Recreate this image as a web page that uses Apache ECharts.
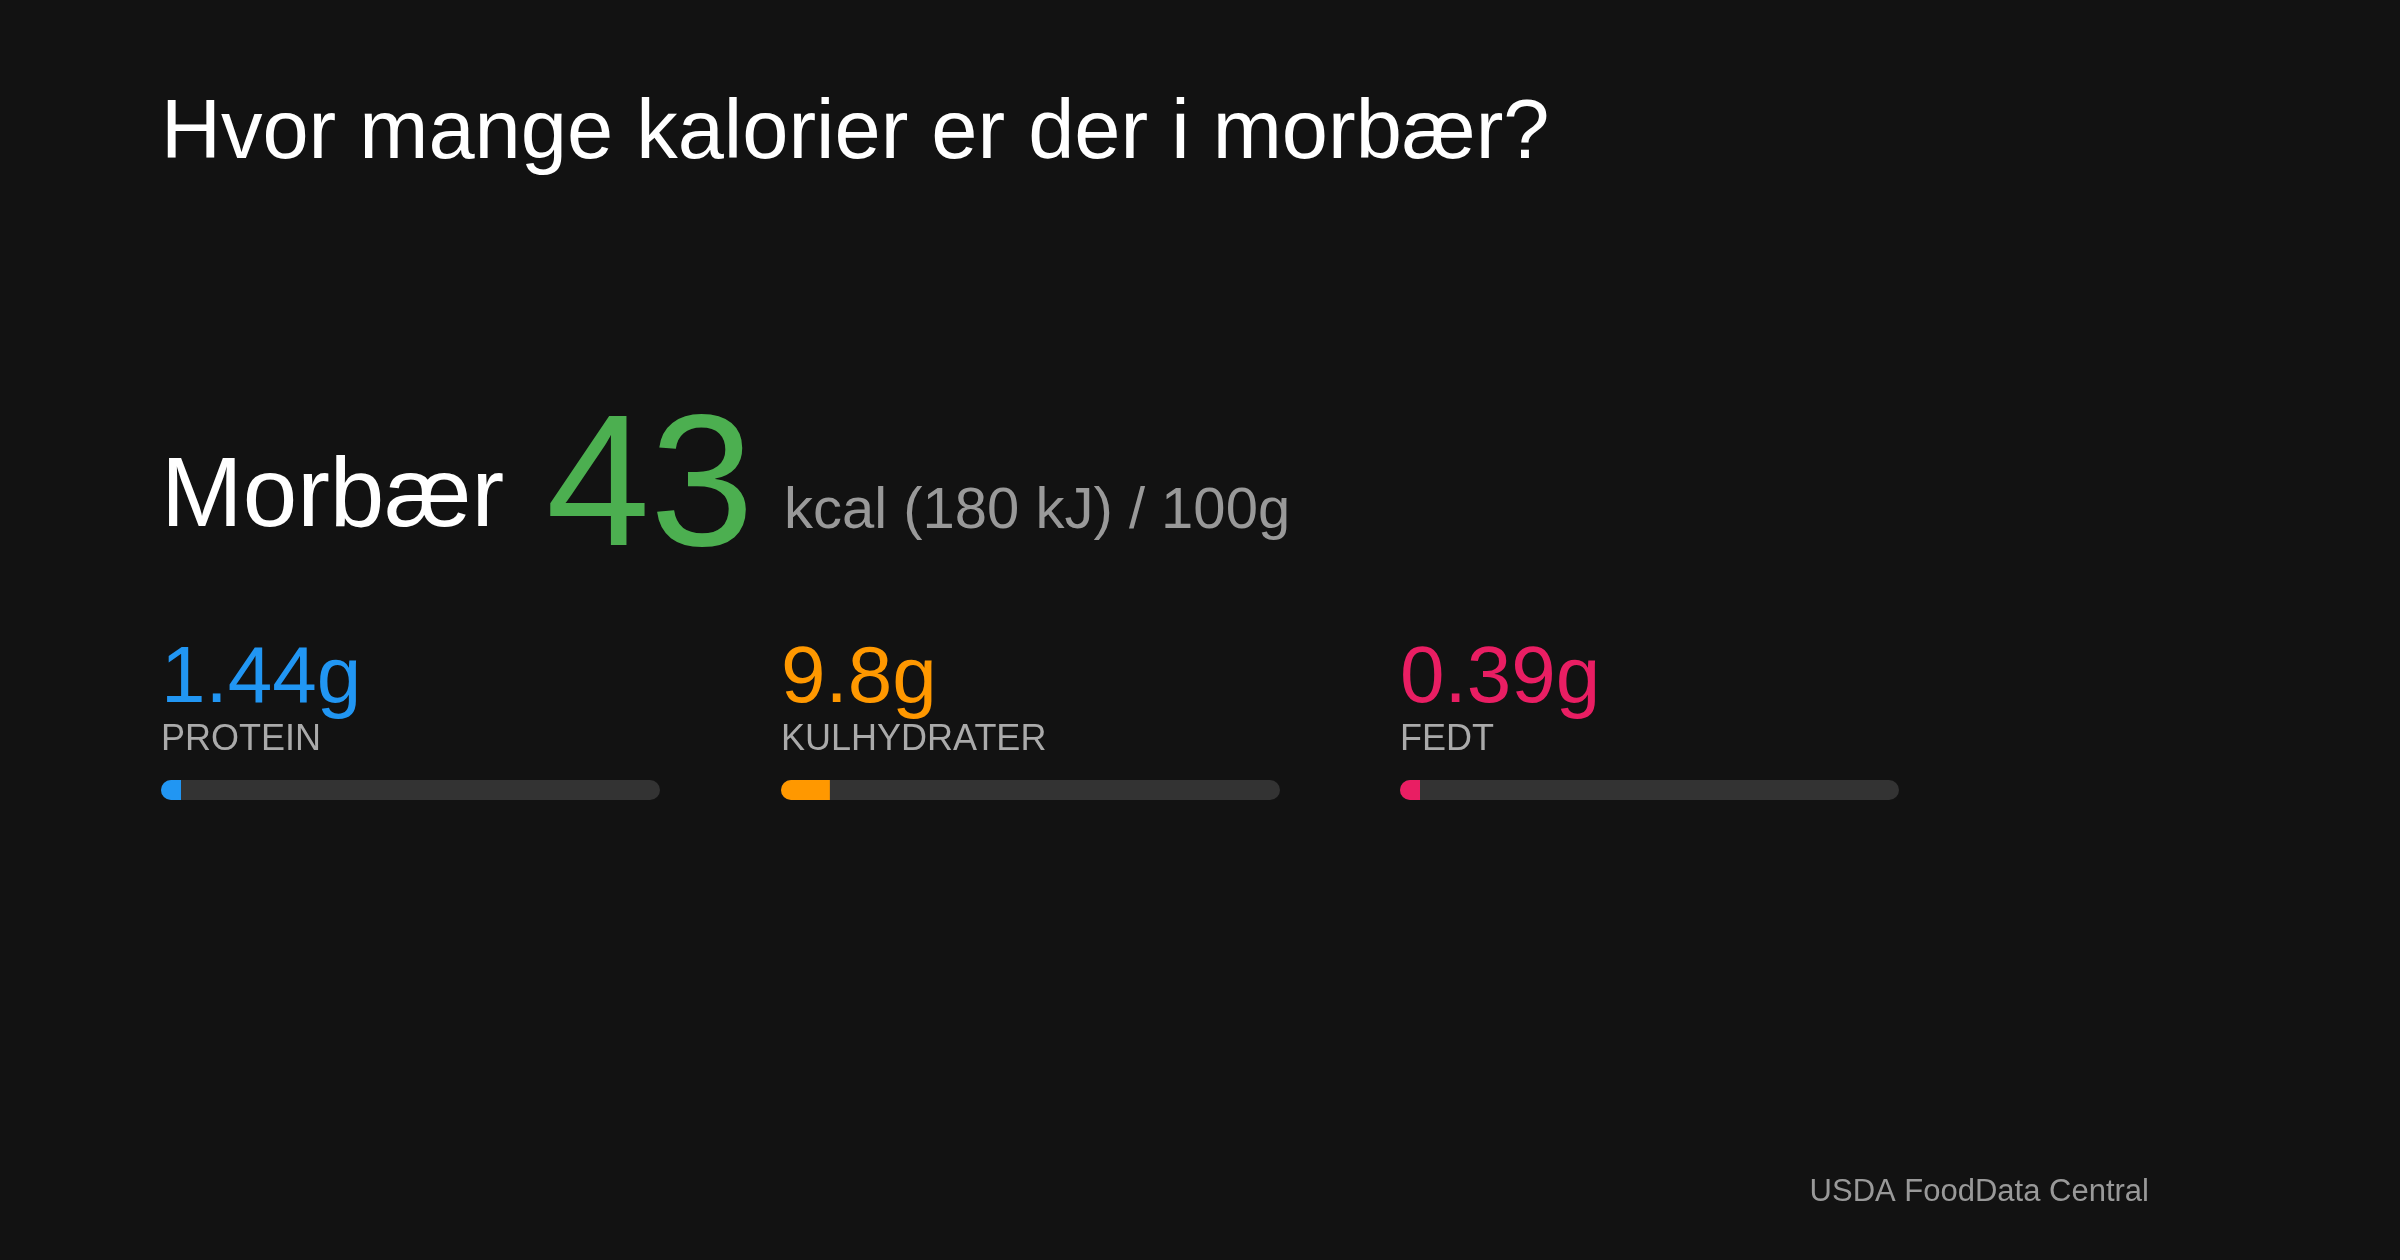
<!DOCTYPE html>
<html><head><meta charset="utf-8">
<script src="https://cdn.jsdelivr.net/npm/echarts@6/dist/echarts.min.js"></script>
<style>html,body{margin:0;padding:0;background:#121212}#c{width:2400px;height:1260px}</style>
</head><body><div id="c"></div>
<script>
const title = 'Hvor mange kalorier er der i morbær?';
const foodName = 'Morbær';
const kcal = 43;
const energyText = 'kcal (180 kJ) / 100g';
const nutrientLabels = ['PROTEIN', 'KULHYDRATER', 'FEDT'];
const nutrientValues = [1.44, 9.8, 0.39];
const nutrientColors = ['#2196F3', '#FF9800', '#E91E63'];
const scaleMax = 100;
const source = 'USDA FoodData Central';

const font = '"Liberation Sans", "Helvetica Neue", Arial, sans-serif';
const lefts = [161, 781, 1400];
const chart = echarts.init(document.getElementById('c'));
const graphic = [
  {type:'text', left:161, top:94, style:{text:title, fill:'#fff', font:'83px '+font}},
  {type:'text', left:161, top:450, style:{text:foodName, fill:'#fff', font:'98px '+font}},
  {type:'text', left:546, top:400, style:{text:String(kcal), fill:'#4CAF50', font:'187px '+font}},
  {type:'text', left:784, top:483, style:{text:energyText, fill:'#999', font:'58px '+font}},
  {type:'text', right:251, top:1177, style:{text:source, fill:'#999', font:'31px '+font}}
];
nutrientLabels.forEach((l,i)=>{
  graphic.push({type:'text', left:lefts[i], top:640, style:{text:nutrientValues[i]+'g', fill:nutrientColors[i], font:'80px '+font}});
  graphic.push({type:'text', left:lefts[i], top:722, style:{text:l, fill:'#aaa', font:'36px '+font}});
});
chart.setOption({
  backgroundColor:'#121212',
  animation:false,
  graphic,
  grid: lefts.map(l=>({left:l, top:780, width:499, height:20})),
  xAxis: lefts.map((l,i)=>({type:'value', gridIndex:i, min:0, max:scaleMax, show:false})),
  yAxis: lefts.map((l,i)=>({type:'category', gridIndex:i, data:[nutrientLabels[i]], show:false})),
  series: nutrientValues.map((v,i)=>({
    type:'bar', xAxisIndex:i, yAxisIndex:i, data:[v], barWidth:20, barMinHeight:20,
    itemStyle:{color:nutrientColors[i], borderRadius:[10,0,0,10]},
    showBackground:true, backgroundStyle:{color:'#333', borderRadius:10}
  }))
});
</script></body></html>
